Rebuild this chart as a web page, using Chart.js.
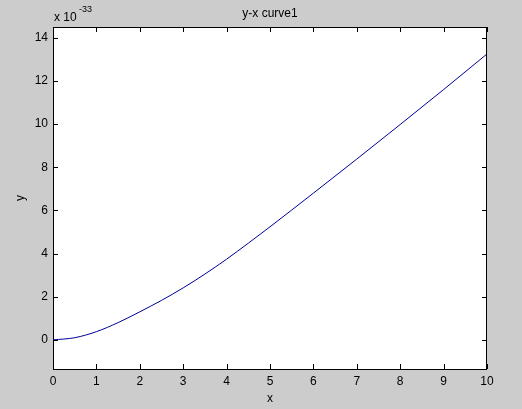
<!DOCTYPE html>
<html>
<head>
<meta charset="utf-8">
<script src="https://cdn.jsdelivr.net/npm/chart.js@4/dist/chart.umd.min.js"></script>
<style>
  body { margin: 0; background: #cccccc; }
  canvas { display: block; }
</style>
</head>
<body>
<canvas id="curve" width="522" height="409"></canvas>
<script>
// values (y is in units of 1e-33)
const xValues = [0, 0.5, 1, 1.5, 2, 2.5, 3, 3.5, 4, 4.5, 5, 6, 7, 8, 9, 10];
const yValues = [0, 0.1, 0.38, 0.8, 1.3, 1.83, 2.41, 3.05, 3.74, 4.48, 5.24, 6.8, 8.38, 9.98, 11.6, 13.25];
const xTicks = [0, 1, 2, 3, 4, 5, 6, 7, 8, 9, 10];
const yTicks = [0, 2, 4, 6, 8, 10, 12, 14];

const font = { family: 'Liberation Sans, Arial, sans-serif', size: 12 };

// white axes box, frame and inward ticks on all four sides, title and exponent
const matlabAxes = {
    id: 'matlabAxes',
    beforeDraw(chart) {
        const { ctx, chartArea: a } = chart;
        ctx.save();
        ctx.fillStyle = '#ffffff';
        ctx.fillRect(a.left, a.top, a.right - a.left, a.bottom - a.top);
        ctx.restore();
    },
    afterDraw(chart) {
        const { ctx, chartArea: a, scales } = chart;
        ctx.save();
        ctx.strokeStyle = '#000000';
        ctx.lineWidth = 1;
        ctx.strokeRect(a.left + 0.5, a.top + 0.5, a.right - a.left - 1, a.bottom - a.top);
        ctx.beginPath();
        scales.x.ticks.forEach(t => {
            const px = Math.round(scales.x.getPixelForValue(t.value)) + 0.5;
            ctx.moveTo(px, a.bottom); ctx.lineTo(px, a.bottom - 5);
            ctx.moveTo(px, a.top); ctx.lineTo(px, a.top + 5);
        });
        scales.y.ticks.forEach(t => {
            const py = Math.round(scales.y.getPixelForValue(t.value)) + 0.5;
            ctx.moveTo(a.left, py); ctx.lineTo(a.left + 5, py);
            ctx.moveTo(a.right, py); ctx.lineTo(a.right - 5, py);
        });
        ctx.stroke();

        ctx.fillStyle = '#000000';
        ctx.font = '12px ' + font.family;
        ctx.textAlign = 'center';
        ctx.textBaseline = 'alphabetic';
        ctx.fillText('y-x curve1', (a.left + a.right) / 2, 17);
        ctx.textAlign = 'left';
        ctx.fillText('x 10', a.left + 1, 21);
        ctx.font = '9px ' + font.family;
        ctx.fillText('-33', a.left + 26, 12);
        ctx.restore();
    }
};

const points = xValues.map((x, i) => ({ x: x, y: yValues[i] }));

new Chart(document.getElementById('curve'), {
    type: 'line',
    data: {
        datasets: [
            {
                data: points,
                borderColor: '#00009a',
                borderWidth: 1,
                pointRadius: 0,
                fill: false,
                cubicInterpolationMode: 'monotone'
            }
        ]
    },
    options: {
        responsive: false,
        animation: false,
        layout: { padding: { left: 0, right: 35, top: 27, bottom: 0 } },
        plugins: {
            legend: { display: false },
            tooltip: { enabled: false }
        },
        scales: {
            x: {
                type: 'linear',
                min: 0,
                max: 10,
                afterBuildTicks: s => { s.ticks = xTicks.map(v => ({ value: v })); },
                afterFit: s => { s.height = 40; },
                grid: { display: false, drawTicks: false, tickLength: 0 },
                border: { display: false },
                ticks: { color: '#000000', font: font, padding: 5, maxRotation: 0 },
                title: { display: true, text: 'x', color: '#000000', font: font, padding: { top: 0, bottom: 3 } }
            },
            y: {
                type: 'linear',
                min: -1.35,
                max: 14.5,
                afterBuildTicks: s => { s.ticks = yTicks.map(v => ({ value: v })); },
                afterFit: s => { s.width = 53; },
                grid: { display: false, drawTicks: false, tickLength: 0 },
                border: { display: false },
                ticks: { color: '#000000', font: font, padding: 5 },
                title: { display: true, text: 'y', color: '#000000', font: font, padding: { top: 13, bottom: 0 } }
            }
        }
    },
    plugins: [matlabAxes]
});
</script>
</body>
</html>
